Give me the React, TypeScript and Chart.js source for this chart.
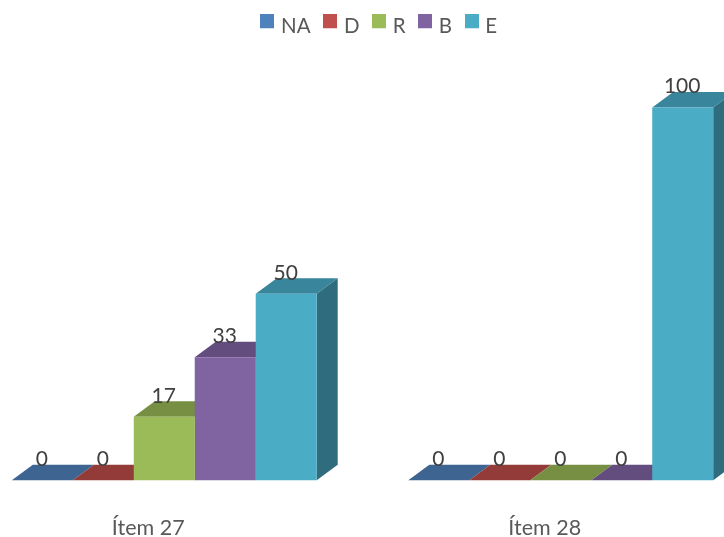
import React, { useEffect, useRef } from "react";
import { Chart, registerables } from "chart.js";

Chart.register(...registerables);

const categories = ["Ítem 27", "Ítem 28"];
const seriesNames = ["NA", "D", "R", "B", "E"];
const valuesNA = [0, 0];
const valuesD = [0, 0];
const valuesR = [17, 0];
const valuesB = [33, 0];
const valuesE = [50, 100];
const seriesValues = [valuesNA, valuesD, valuesR, valuesB, valuesE];

const frontColors = ["#4F81BD", "#C0504D", "#9BBB59", "#8064A2", "#4BACC6"];
const topColors = ["#3E6491", "#923B39", "#768F42", "#634D7F", "#39859B"];
const sideColors = ["#315072", "#752F2D", "#5E7235", "#4F3D66", "#2F6C7E"];

const FONT = "Lato";
const DEPTH_X = 21;
const DEPTH_Y = 15.5;
const CANVAS_SHIFT = 34;

const bars3d = {
  id: "bars3d",
  beforeDatasetsDraw(chart: any) {
    const ctx = chart.ctx;
    ctx.save();
    chart.data.datasets.forEach((_: any, i: number) => {
      for (const el of chart.getDatasetMeta(i).data) {
        const { x, y, base, width } = el.getProps(["x", "y", "base", "width"], true);
        const l = x - width / 2;
        const r = x + width / 2;
        ctx.fillStyle = sideColors[i];
        ctx.beginPath();
        ctx.moveTo(r, y);
        ctx.lineTo(r + DEPTH_X, y - DEPTH_Y);
        ctx.lineTo(r + DEPTH_X, base - DEPTH_Y);
        ctx.lineTo(r, base);
        ctx.closePath();
        ctx.fill();
        ctx.fillStyle = topColors[i];
        ctx.beginPath();
        ctx.moveTo(l, y);
        ctx.lineTo(l + DEPTH_X, y - DEPTH_Y);
        ctx.lineTo(r + DEPTH_X, y - DEPTH_Y);
        ctx.lineTo(r, y);
        ctx.closePath();
        ctx.fill();
      }
    });
    ctx.restore();
  },
  afterDatasetsDraw(chart: any) {
    const ctx = chart.ctx;
    ctx.save();
    ctx.fillStyle = "#404040";
    ctx.font = `21px ${FONT}`;
    ctx.textAlign = "center";
    ctx.textBaseline = "middle";
    chart.data.datasets.forEach((ds: any, i: number) => {
      chart.getDatasetMeta(i).data.forEach((el: any, j: number) => {
        const { x, y } = el.getProps(["x", "y"], true);
        ctx.fillText(String(ds.data[j]), x - 0.5, y - 21);
      });
    });
    ctx.restore();
  },
};

const legendPlace = {
  id: "legendPlace",
  afterLayout(chart: any) {
    const lg = chart.legend;
    const h = lg.height;
    const w = lg.width;
    lg.top = 0;
    lg.bottom = h;
    lg.left = 18;
    lg.right = 18 + w;
  },
};

function swatch(color: string) {
  const c = document.createElement("canvas");
  c.width = 14;
  c.height = 24;
  const g = c.getContext("2d")!;
  g.fillStyle = color;
  g.fillRect(0, 0, 14, 14);
  return c;
}

export default function App() {
  const ref = useRef<HTMLCanvasElement>(null);
  useEffect(() => {
    const chart = new Chart(ref.current!, {
      type: "bar",
      data: {
        labels: categories,
        datasets: seriesNames.map((name, i) => ({
          label: name,
          data: seriesValues[i],
          backgroundColor: frontColors[i],
          borderWidth: 0,
          categoryPercentage: 0.769,
          barPercentage: 1,
          clip: false as any,
        })),
      },
      options: {
        responsive: false,
        animation: false,
        layout: { padding: { top: 61, bottom: 0, left: 0, right: 0 } },
        scales: {
          x: {
            grid: { display: false, drawTicks: false },
            border: { display: false },
            ticks: {
              color: "#595959",
              font: { family: FONT, size: 21.5 },
              padding: 35,
              labelOffset: -16,
              autoSkip: false,
              maxRotation: 0,
            },
          },
          y: { display: false, min: 0, max: 100 },
        },
        plugins: {
          tooltip: { enabled: false },
          legend: {
            position: "top",
            labels: {
              color: "#595959",
              font: { family: FONT, size: 20.5 },
              usePointStyle: true,
              pointStyleWidth: 7,
              boxHeight: 14,
              padding: 16,
              generateLabels: (c: any) =>
                Chart.defaults.plugins.legend.labels
                  .generateLabels(c)
                  .map((it: any, i: number) => ({ ...it, pointStyle: swatch(frontColors[i]) })),
            },
          },
        },
      },
      plugins: [bars3d, legendPlace],
    } as any);
    return () => chart.destroy();
  }, []);
  return (
    <div style={{ position: "absolute", left: 0, top: 0, width: 724, height: 537, overflow: "hidden", background: "#fff" }}>
      <canvas
        ref={ref}
        width={793}
        height={576}
        style={{ display: "block", position: "absolute", left: -CANVAS_SHIFT, top: 0 }}
      />
    </div>
  );
}
